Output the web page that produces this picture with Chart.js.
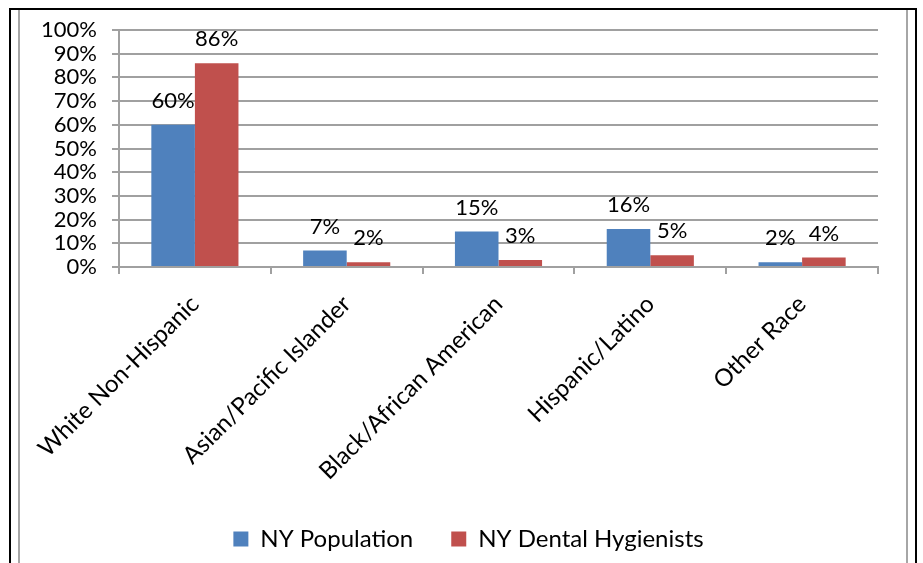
<!DOCTYPE html>
<html>
<head>
<meta charset="utf-8">
<script src="https://cdn.jsdelivr.net/npm/chart.js@4.4.0/dist/chart.umd.min.js"></script>
<style>
  html, body { margin: 0; padding: 0; background: #fff; }
  #wrap { position: relative; width: 923px; height: 563px; overflow: hidden; }
  .frame { position: absolute; left: 9px; top: 8px; width: 904px; height: 700px; border: 2px solid #000; }
  .inner { position: absolute; top: 10px; width: 2px; height: 700px; background: #a6a6a6; }
  canvas { position: absolute; left: 0; top: 0; }
</style>
</head>
<body>
<div id="wrap">
  <div class="frame"></div>
  <div class="inner" style="left:18px"></div>
  <div class="inner" style="left:906px"></div>
  <canvas id="chart" width="923" height="563"></canvas>
</div>
<script>
const categories = ['White Non-Hispanic', 'Asian/Pacific Islander', 'Black/African American', 'Hispanic/Latino', 'Other Race'];
const nyPopulation = [60, 7, 15, 16, 2];
const nyHygienists = [86, 2, 3, 5, 4];
const seriesNames = ['NY Population', 'NY Dental Hygienists'];

const FONT = 'Lato';
const GRID = '#a0a0a0';

// percent labels above each bar
const valueLabels = {
  id: 'valueLabels',
  afterDatasetsDraw(chart) {
    const ctx = chart.ctx;
    ctx.save();
    ctx.font = '22px ' + FONT;
    ctx.fillStyle = '#000';
    ctx.textAlign = 'center';
    ctx.textBaseline = 'middle';
    chart.data.datasets.forEach((ds, i) => {
      chart.getDatasetMeta(i).data.forEach((bar, j) => {
        ctx.fillText(ds.data[j] + '%', bar.x, bar.y - 24);
      });
    });
    ctx.restore();
  }
};

// legend sits a little right of centre in the original
const legendNudge = {
  id: 'legendNudge',
  afterLayout(chart) {
    chart.legend.left += 7;
    chart.legend.right += 7;
  }
};

new Chart(document.getElementById('chart'), {
  type: 'bar',
  data: {
    labels: categories,
    datasets: [
      { label: seriesNames[0], data: nyPopulation, backgroundColor: '#4f81bd' },
      { label: seriesNames[1], data: nyHygienists, backgroundColor: '#c0504d' }
    ]
  },
  options: {
    responsive: false,
    animation: false,
    categoryPercentage: 0.574,
    barPercentage: 1.0,
    layout: { padding: { top: 30, left: 0, right: 0, bottom: 2 } },
    scales: {
      x: {
        grid: { drawOnChartArea: false, drawTicks: true, tickLength: 7, color: GRID, lineWidth: 2 },
        border: { color: GRID, width: 2 },
        ticks: { maxRotation: 45, minRotation: 45, padding: 16, color: '#000', font: { family: FONT, size: 24 } },
        afterFit(s) { s.height = 222; }
      },
      y: {
        min: 0,
        max: 100,
        grid: { tickLength: 7, color: GRID, lineWidth: 2 },
        border: { color: GRID, width: 2 },
        ticks: { stepSize: 10, autoSkip: false, padding: 15, color: '#000', font: { family: FONT, size: 22, lineHeight: 1 }, callback: v => v + '%' },
        afterFit(s) { s.width = 119; }
      },
      yRight: {
        position: 'right',
        grid: { display: false },
        border: { display: false },
        ticks: { display: false },
        afterFit(s) { s.width = 45; }
      }
    },
    plugins: {
      legend: {
        position: 'bottom',
        labels: { boxWidth: 15, boxHeight: 15, padding: 38, color: '#000', font: { family: FONT, size: 24 } }
      },
      tooltip: { enabled: false }
    }
  },
  plugins: [valueLabels, legendNudge]
});
</script>
</body>
</html>
